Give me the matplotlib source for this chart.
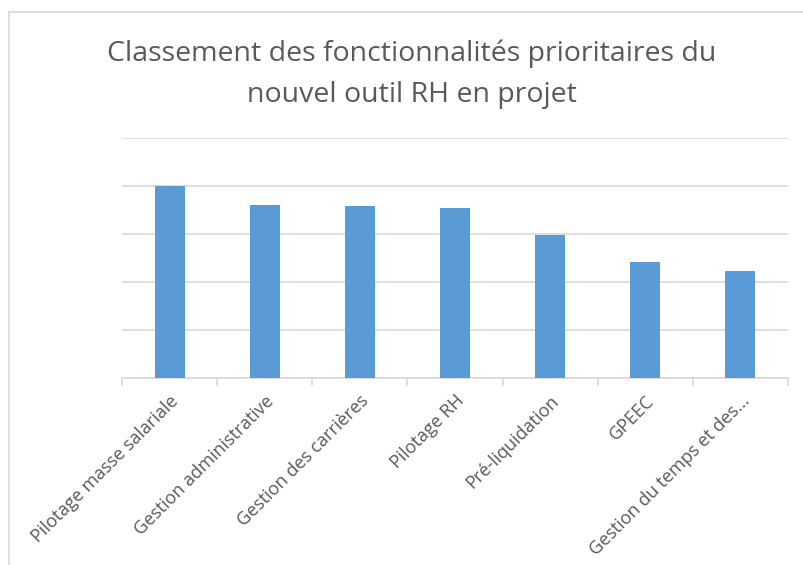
import matplotlib
matplotlib.use("Agg")
import matplotlib.pyplot as plt
from matplotlib.lines import Line2D

# data (no value axis shown)
categories = ["Pilotage masse salariale", "Gestion administrative", "Gestion des carrières",
              "Pilotage RH", "Pré-liquidation", "GPEEC", "Gestion du temps et des..."]
scores = [4.0, 3.6, 3.58, 3.54, 2.97, 2.41, 2.23]

title_lines = ["Classement des fonctionnalités prioritaires du", "nouvel outil RH en projet"]

bar_color = "#5B9BD5"
grid_color = "#D9D9D9"
text_color = "#595959"

plt.rcParams['font.family'] = ['Open Sans', 'DejaVu Sans']

fig = plt.figure(figsize=(8.04, 5.65), dpi=100)
W, H = 804, 565
ax = fig.add_axes([122 / W, 1 - 378 / H, (788 - 122) / W, (378 - 138) / H])

x = range(len(categories))
ax.bar(x, scores, width=0.315, color=bar_color, zorder=3)

ax.set_xlim(-0.5, len(categories) - 0.5)
ax.set_ylim(0, 5)
ax.set_yticks(range(0, 6))
ax.yaxis.grid(True, color=grid_color, linewidth=1.2, zorder=0)
ax.tick_params(axis='y', left=False, labelleft=False)

for s in ["top", "right", "left"]:
    ax.spines[s].set_visible(False)
ax.spines["bottom"].set_color(grid_color)
ax.spines["bottom"].set_linewidth(1.2)

# category labels at centres, tick marks at boundaries
ax.set_xticks(list(x))
ax.set_xticklabels(categories, rotation=45, ha='right', rotation_mode='anchor',
                   fontsize=13, color=text_color)
ax.tick_params(axis='x', length=0, pad=10)
ax.set_xticks([i - 0.5 for i in range(len(categories) + 1)], minor=True)
ax.tick_params(axis='x', which='minor', length=6, color=grid_color, width=1.2)

# title, two lines placed by baseline
for line, base in zip(title_lines, [61, 102]):
    fig.text(0.512, 1 - base / H, line, ha='center', va='baseline', fontsize=20.5,
             color=text_color)

# chart border (top and left edges visible)
fig.add_artist(Line2D([9 / W, 1], [1 - 12 / H, 1 - 12 / H], transform=fig.transFigure,
                      color=grid_color, linewidth=1.2))
fig.add_artist(Line2D([9 / W, 9 / W], [0, 1 - 12 / H], transform=fig.transFigure,
                      color=grid_color, linewidth=1.2))

fig.savefig("out.png", dpi=100, facecolor="white")
